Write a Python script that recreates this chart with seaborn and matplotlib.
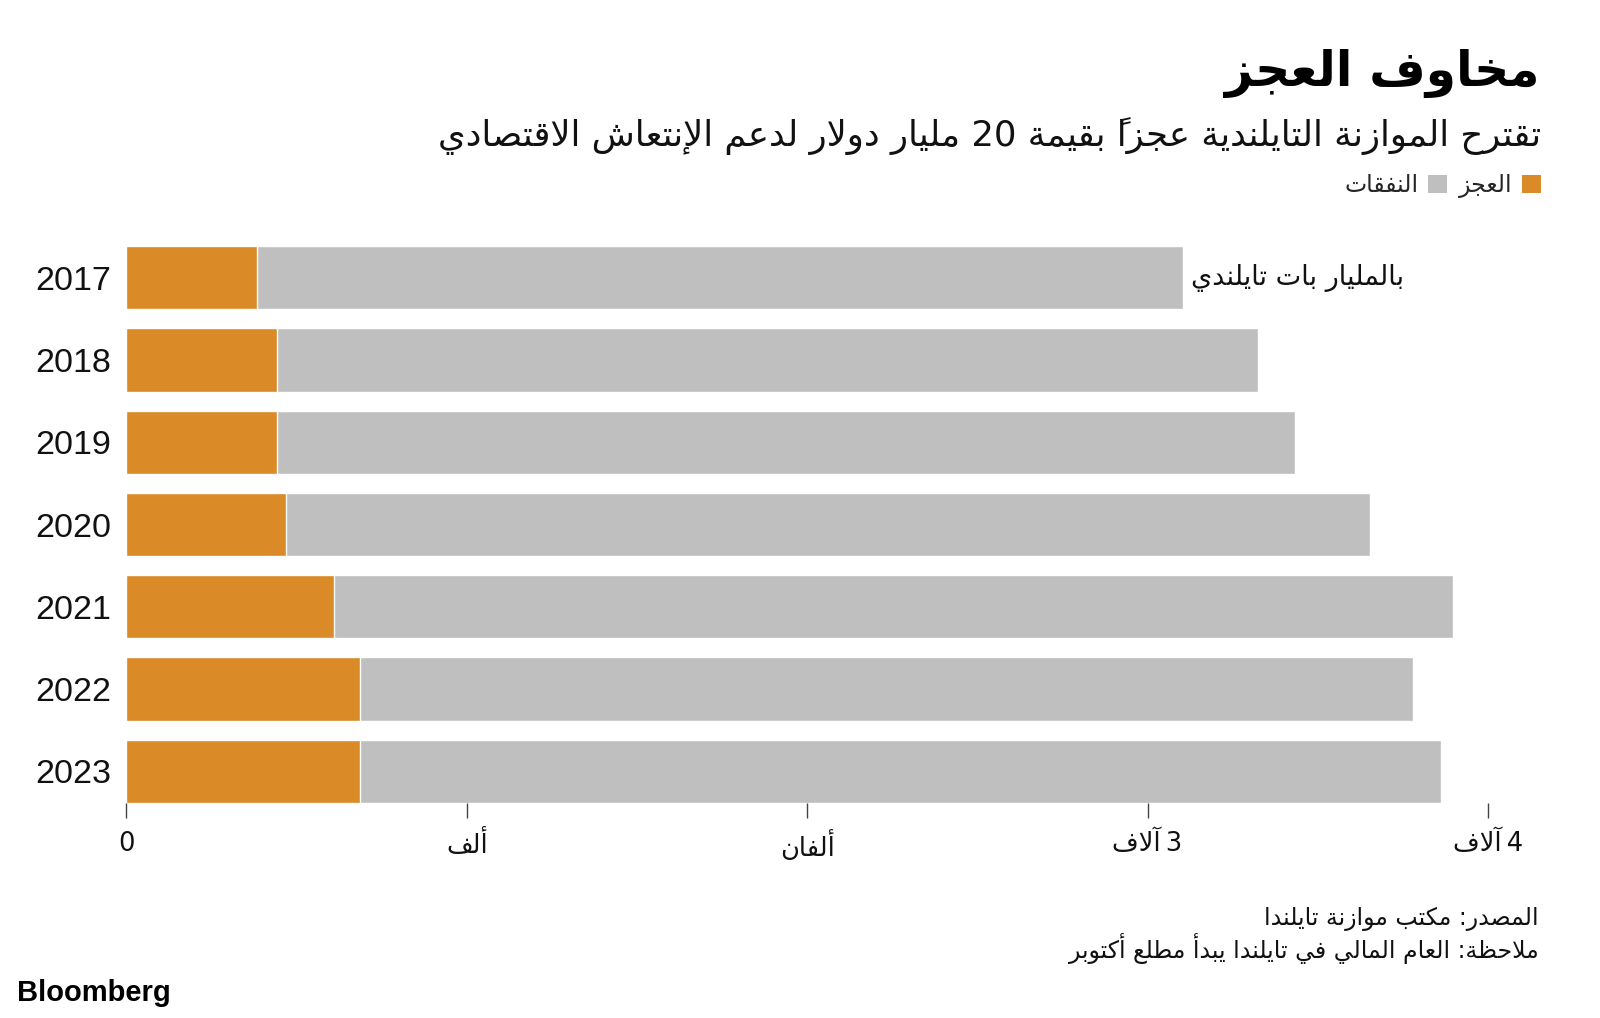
import matplotlib
matplotlib.use("Agg")
import matplotlib.pyplot as plt
import seaborn as sns
import pandas as pd
from matplotlib.patches import Patch

# values (billion baht)
years = ["2017", "2018", "2019", "2020", "2021", "2022", "2023"]
deficit = [384, 441, 441, 468, 610, 686, 686]
expenditure = [2719, 2884, 2993, 3186, 3288, 3094, 3175]
x_ticks = [0, 1000, 2000, 3000, 4000]
x_tick_labels = ["0", "ألف", "ألفان", "3\u2009آلاف", "4\u2009آلاف"]

title = "مخاوف العجز"
subtitle = "تقترح الموازنة التايلندية عجزاً بقيمة 20 مليار دولار لدعم الإنتعاش الاقتصادي"
unit_note = "بالمليار بات تايلندي"
legend_labels = ["العجز", "النفقات"]
source = "المصدر: مكتب موازنة تايلندا"
note = "ملاحظة: العام المالي في تايلندا يبدأ مطلع أكتوبر"

ORANGE = "#DA8A26"
GREY = "#BFBFBF"
INK = "#111111"

# --- tiny arabic shaper (matplotlib has no text shaping) ---
_letters = "ءآأؤإئابةتثجحخدذرزسشصضطظعغفقكلمنهوىي"
_nforms = [1, 2, 2, 2, 2, 4, 2, 4, 2, 4, 4, 4, 4, 4, 2, 2, 2, 2,
           4, 4, 4, 4, 4, 4, 4, 4, 4, 4, 4, 4, 4, 4, 4, 2, 2, 4]
FORMS = {}
_start = 0xFE80
for _ch, _n in zip(_letters, _nforms):
    FORMS[_ch] = (_start, _n)
    _start += _n
LAMALEF = {"آ": 0xFEF5, "أ": 0xFEF7, "إ": 0xFEF9, "ا": 0xFEFB}


def is_mark(c):
    return 0x064B <= ord(c) <= 0x0652 or ord(c) == 0x0670


def shape(s):
    n = len(s)
    res = []
    i = 0
    while i < n:
        c = s[i]
        if c not in FORMS:
            res.append(c)
            i += 1
            continue
        j = i - 1
        while j >= 0 and is_mark(s[j]):
            j -= 1
        prev = s[j] if j >= 0 else None
        join_prev = prev in FORMS and FORMS[prev][1] == 4 and c != "ء"
        k = i + 1
        while k < n and is_mark(s[k]):
            k += 1
        nxt = s[k] if k < n else None
        if c == "ل" and nxt in LAMALEF:
            res.append(chr(LAMALEF[nxt] + (1 if join_prev else 0)))
            res.extend(s[i + 1:k])
            i = k + 1
            continue
        start, nf = FORMS[c]
        join_next = nf == 4 and nxt in FORMS and nxt != "ء"
        if nf == 1:
            code = start
        elif join_prev and join_next:
            code = start + 3
        elif join_next:
            code = start + 2
        elif join_prev:
            code = start + 1
        else:
            code = start
        res.append(chr(code))
        i += 1
    return res


def ar(s):
    clusters = []
    for c in shape(s):
        if is_mark(c) and clusters:
            clusters[-1] += c
        else:
            clusters.append(c)
    tokens = []
    for cl in clusters:
        ltr = cl[0].isascii() and cl[0].isalnum()
        if ltr and tokens and tokens[-1][0]:
            tokens[-1][1].append(cl)
        else:
            tokens.append([ltr, [cl]])
    out = []
    for ltr, cls in reversed(tokens):
        out.append("".join(cls) if ltr else cls[0][::-1])
    return "".join(out)


df = pd.DataFrame({"year": years, "deficit": deficit, "expenditure": expenditure})
df["total"] = df["deficit"] + df["expenditure"]

sns.set_style("white")
plt.rcParams["font.family"] = ["DejaVu Sans"]

fig = plt.figure(figsize=(16, 10.18), dpi=100)
ax = fig.add_axes([126.5 / 1600, 1 - 803 / 1018, (1488 - 126.5) / 1600, (803 - 236.6) / 1018])

sns.barplot(data=df, x="total", y="year", color=GREY, width=0.77, orient="h", ax=ax, saturation=1)
sns.barplot(data=df, x="deficit", y="year", color=ORANGE, width=0.77, orient="h", ax=ax, saturation=1)

ax.set_xlim(0, 4000)
ax.set_ylim(6.385, -0.5)
ax.set_xlabel("")
ax.set_ylabel("")
for sp in ax.spines.values():
    sp.set_visible(False)

ax.set_xticks(x_ticks)
ax.set_xticklabels([ar(t) for t in x_tick_labels], fontsize=18.5, color=INK)
ax.tick_params(axis="x", bottom=True, length=11, width=1, color="#444444", pad=9)
ax.tick_params(axis="y", left=False, length=0, pad=38.5)
for lab in ax.get_yticklabels():
    lab.set_fontfamily("Liberation Sans")
    lab.set_fontsize(24.5)
    lab.set_ha("center")
    lab.set_color(INK)

ax.text(df["total"].iloc[0] + 25, 0, ar(unit_note), ha="left", va="center", fontsize=19.5, color=INK)

fig.text(1539 / 1600, 1 - 73 / 1018, ar(title), ha="right", va="center",
         fontsize=35, fontweight="bold", color="black")
fig.text(1541 / 1600, 1 - 136 / 1018, ar(subtitle), ha="right", va="center", fontsize=25.5, color=INK)

handles = [Patch(facecolor=GREY, edgecolor="none"), Patch(facecolor=ORANGE, edgecolor="none")]
fig.legend(handles, [ar(legend_labels[1]), ar(legend_labels[0])], loc="center right",
           bbox_to_anchor=(1541 / 1600, 1 - 186 / 1018), ncol=2, frameon=False,
           markerfirst=False, fontsize=17, handlelength=0.8, handleheight=0.8,
           handletextpad=0.4, columnspacing=0.5, borderaxespad=0, borderpad=0)

fig.text(1539 / 1600, 1 - 919 / 1018, ar(source), ha="right", va="center", fontsize=17, color=INK)
fig.text(1539 / 1600, 1 - 949 / 1018, ar(note), ha="right", va="center", fontsize=17, color=INK)
fig.text(17 / 1600, 1 - 993 / 1018, "Bloomberg", ha="left", va="center", fontsize=21,
         fontfamily="Liberation Sans", fontweight="bold", color="black")

fig.savefig("out.png", dpi=100)
plt.close(fig)
